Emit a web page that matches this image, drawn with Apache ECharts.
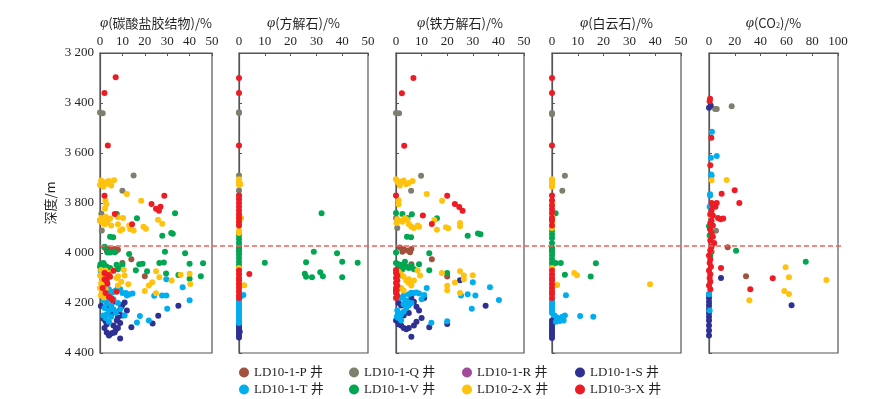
<!DOCTYPE html>
<html>
<head>
<meta charset="utf-8">
<script src="https://cdn.jsdelivr.net/npm/echarts@6/dist/echarts.min.js"></script>
<style>
  html, body { margin: 0; padding: 0; background: #fff; }
  #chart { width: 892px; height: 399px; }
</style>
</head>
<body>
<div id="chart"></div>
<script>
var chart = echarts.init(document.getElementById('chart'));

// wells and legend colours
var wells = ['LD10-1-P 井', 'LD10-1-Q 井', 'LD10-1-R 井', 'LD10-1-S 井', 'LD10-1-T 井', 'LD10-1-V 井', 'LD10-2-X 井', 'LD10-3-X 井'];
var wellColors = ['#a0523d', '#7f7f6f', '#a3499a', '#2e3192', '#00aeef', '#00a651', '#ffc20e', '#ed1c24'];

var depthTicks = [3200, 3400, 3600, 3800, 4000, 4200, 4400];
var boundaryDepth = 3970;

// panel 1: carbonate cement [value %, depth m]
var c1_P = [[2,3978],[3.5,3983],[5,3988],[6.5,3984],[8,3987],[4,3995],[7,3994],[3,3990],[14,4025],[20,4093],[10,4040],[8,4060]];
var c1_Q = [[0,3438],[1.2,3441],[15,3690],[10,3751],[0.6,3843],[0.8,3910],[0,3870]];
var c1_S = [[0.4,4212],[1.5,4262],[2.4,4272],[3,4285],[2,4300],[3,4318],[4.5,4325],[5.5,4320],[6.5,4318],[4,4330],[7,4308],[8,4300],[9,4280],[10,4250],[8.5,4232],[9.5,4215],[11,4198],[6,4195],[9,4342],[14,4297],[26,4251],[23.5,4282],[35,4211],[10,4208],[7.5,4270],[5,4245],[3.5,4222],[8,4258],[6,4290],[12,4230]];
var c1_T = [[0.3,4072],[1,4080],[0.5,4090],[1.5,4095],[3,4078],[2,4140],[3,4150],[4,4145],[5,4160],[6,4155],[7,4150],[8,4140],[9,4145],[10,4160],[11.5,4160],[13,4165],[14.5,4162],[2.5,4170],[4,4185],[3,4200],[5,4210],[2,4220],[4,4230],[6,4225],[3,4245],[5,4255],[2.5,4260],[7,4240],[8,4200],[6,4185],[1.5,4190],[9,4225],[11,4250],[17.8,4252],[16.5,4278],[21.8,4270],[24.2,4171],[27.7,4170],[29.6,4170],[29.6,4105],[30,4223],[36.9,4137],[40,4189],[12,4170],[1.5,4250],[4,4275]];
var c1_V = [[33.5,3841],[27.8,3931],[31.8,3920],[32.5,3923],[4.5,3935],[5.9,3937],[16.5,3861],[7.5,3844],[2,3975],[3.3,3998],[4.5,3998],[6.5,3997],[13,4004],[29,3995],[38,4001],[0.2,4045],[1,4050],[2,4048],[3,4055],[4.5,4060],[1.5,4040],[0,4055],[10,4047],[16,4069],[19,4043],[17.5,4045],[21,4073],[26.5,4040],[28.5,4038],[29.5,4082],[35,4088],[40,4043],[40,4103],[45,4093],[46,4041],[8,4065],[7.4,4047],[5.5,4070],[2.5,4065]];
var c1_2X = [[0.5,3710],[1,3720],[2,3725],[3,3715],[4,3712],[5,3730],[1.5,3735],[3.5,3722],[6.3,3709],[0,3728],[12,3764],[18.4,3791],[2.4,3790],[2.8,3805],[2.2,3822],[0.5,3860],[1.5,3865],[2.5,3855],[3.5,3870],[4.5,3862],[1,3878],[2,3885],[3,3880],[0,3870],[8,3857],[10.3,3860],[8,3885],[9,3910],[10,3905],[13,3890],[13.5,3905],[15,3910],[19.4,3895],[20.5,3903],[25.9,3867],[27.8,3883],[5,3890],
  [0.5,4068],[1.5,4075],[2.5,4070],[0,4090],[1,4100],[2,4110],[0.5,4120],[1.5,4130],[0,4140],[2.5,4145],[1,4155],[0.3,4170],[1.8,4178],[3,4120],[5.8,4071],[10.6,4067],[11,4090],[8,4093],[25,4073],[26.5,4097],[32,4110],[36,4087],[40,4083],[40.3,4124],[20,4152],[21.8,4130],[23.3,4117],[25,4161],[7.5,4100],[9.5,4115],[12.6,4125],[8,4130],[4,4080]];
var c1_3X = [[7,3297],[2,3360],[3.5,3570],[2,3771],[28.7,3771],[23,3804],[25,3823],[26.3,3831],[27,3815],[6.6,3844],[14.3,3885],[6,4071],[2,4105],[3,4110],[3.3,4123],[7.4,4155],[2.5,4160],[5,4181],[5.5,4188],[4,4175],[1.2,4140],[4.5,4095],[2,4080],[3.8,4088]];

// panel 2: calcite
var c2_P = [[0,3980],[0,3990]];
var c2_Q = [[0,3440],[0,3437],[0,3690],[0,3750],[0,3770]];
var c2_S = [[0,4290],[0,4300],[0,4310],[0,4320],[0,4330],[0,4338],[0.3,4315]];
var c2_T = [[0,4070],[0,4190],[0,4200],[0,4210],[0,4220],[0,4230],[0,4240],[0,4250],[0,4260],[0,4270],[0,4280],[1.7,4168],[0.5,4175]];
var c2_V = [[0,3930],[0,3945],[0,3960],[0,3975],[0,3990],[0,4005],[0,4020],[0,4035],[0,4050],[0,4060],[32,3841],[10,4039],[26,4037],[29,3995],[38,4001],[40,4035],[46,4039],[25.5,4083],[26,4095],[28.3,4097],[31.5,4077],[32.5,4093],[40,4097]];
var c2_2X = [[0,3705],[0,3712],[0,3720],[0,3728],[0.5,3725],[0,3780],[0,3850],[0,3860],[0,3870],[0,3880],[0,3910],[0,3920],[0,4060],[0,4080],[0,4100],[0,4115],[0,4130],[0,4150],[2,4129],[0.8,3860]];
var c2_3X = [[0,3300],[0,3360],[0,3570],[0,3770],[0,3785],[0,3800],[0,3815],[0,3830],[0,3845],[0,3860],[0,3875],[0,3890],[0,4070],[0,4085],[0,4100],[0,4110],[0,4125],[0,4140],[0,4155],[0,4170],[0,4180],[4,4084]];

// panel 3: ankerite
var c3_P = [[1.5,3978],[3,3985],[4.5,3990],[6,3984],[2.5,3995],[5.5,3997],[14,4025],[20,4094],[6,4045]];
var c3_Q = [[0,3440],[1.2,3441],[9.8,3691],[5.9,3751],[0,3860],[0.5,3900]];
var c3_S = [[0,4150],[1,4200],[2,4210],[3,4205],[4,4195],[6,4180],[7,4195],[8,4215],[9,4230],[5,4240],[3,4250],[1,4260],[0,4270],[1,4285],[2,4290],[3,4300],[4,4305],[5,4300],[7,4290],[8,4275],[6,4335],[25,4109],[35,4211],[13,4297],[20,4284],[10,4260],[11,4180],[6,4160]];
var c3_T = [[1,4080],[2,4090],[0.5,4230],[1,4240],[1.5,4250],[2,4245],[3,4235],[4,4220],[5,4210],[6,4200],[2,4180],[3,4170],[5,4165],[6,4160],[7,4160],[8,4158],[9,4162],[11,4168],[12,4140],[4,4190],[3,4205],[1,4260],[2,4270],[25.4,4170],[28,4165],[31,4170],[30,4117],[36.7,4137],[40.2,4188],[29.6,4223],[13.8,4279],[20,4273],[10,4185],[0.3,4255]];
var c3_V = [[0,3840],[2.5,3844],[4.5,3860],[6.2,3845],[16,3861],[28,3931],[32,3922],[33,3925],[4.3,3935],[5.9,3937],[0,3998],[13,4001],[0,4040],[1,4045],[2,4050],[3,4045],[4,4055],[5,4060],[6,4050],[7,4065],[1.5,4060],[2.5,4065],[9,4045],[13,4069],[20,4080],[3.5,4035]];
var c3_2X = [[0,3705],[0.5,3712],[1,3720],[2,3715],[3,3710],[4,3725],[5,3720],[6.5,3712],[1.5,3730],[12,3764],[18,3791],[1,3790],[1,3805],[0.5,3865],[1.5,3870],[2.5,3875],[3.5,3860],[4.5,3868],[0.2,3880],[5,3885],[6,3895],[7,3900],[8.5,3890],[9,3895],[15,3868],[20.4,3901],[19.5,3897],[25,3880],[25,3893],[16,3907],[8.4,4070],[9.4,4090],[17.9,4080],[20,4131],[20,4149],[23,4118],[25,4073],[26.5,4090],[26.5,4105],[25,4160],[30,4089],[1,4075],[2,4085],[3,4095],[4,4110],[5,4120],[6,4130],[2,4140],[3,4150],[5,4105],[7,4110]];
var c3_3X = [[6.8,3300],[2.3,3361],[3.2,3571],[0,3770],[20,3771],[23,3804],[24.7,3816],[26,3831],[10.5,3850],[14,3884],[0,4068],[0,4080],[0.5,4090],[0,4100],[0.5,4110],[0,4120],[0.5,4130],[0,4140],[0.3,4150],[0,4160],[0.5,4170],[0,4180]];

// panel 4: dolomite
var c4_P = [[0,3980],[0,3990]];
var c4_Q = [[0,3440],[0,3445],[5,3691],[4,3751]];
var c4_S = [[0,4270],[0,4280],[0,4290],[0,4300],[0,4310],[0,4320],[0,4330],[0,4340]];
var c4_T = [[0,4190],[0,4200],[0,4210],[0,4220],[0,4230],[0,4240],[5.4,4169],[1,4250],[2,4258],[3,4265],[4,4255],[5,4250],[1.5,4275],[3,4272],[4.5,4270],[10.9,4252],[16,4255]];
var c4_V = [[1.4,3841],[0,3910],[0,3925],[0,3940],[0,3960],[0,3980],[0,3995],[0,4010],[0,4025],[0,4040],[0,4055],[1.4,4040],[3.4,4040],[5,4087],[15,4094],[17,4041]];
var c4_2X = [[0,3705],[0,3712],[0,3720],[0,3728],[0,3735],[0,3800],[0,3850],[0,3880],[0,3900],[0,4060],[0,4090],[0,4125],[0,4150],[8.6,4080],[9.7,4089],[38,4125],[2,4128]];
var c4_3X = [[0,3300],[0,3360],[0,3570],[0,3770],[0,3790],[0,3810],[0,3825],[0,3840],[0,3860],[0,3870],[0,3890],[0,4070],[0,4085],[0,4100],[0,4110],[0,4125],[0,4140],[0,4155],[0,4165],[0,4180]];

// panel 5: CO2
var c5_P = [[14.5,3977],[28.7,4093],[2,3995]];
var c5_Q = [[4.7,3424],[6,3424],[17.6,3413],[5.4,3911]];
var c5_S = [[0,3419],[1.3,3410],[9.3,4100],[64,4209],[0,4165],[0,4180],[0,4195],[0,4210],[0,4225],[0,4240],[0,4255],[0,4270],[0,4290],[0,4310],[0,4330]];
var c5_T = [[2.3,3515],[6,3612],[1.5,3619],[1.6,3686],[2,3690],[0.8,3765],[0.8,3770],[0.5,3815],[0,4165],[0.5,4230]];
var c5_V = [[0,3893],[21,3991],[75,4035],[0.5,3930],[1,4010]];
var c5_2X = [[2,3709],[13.7,3708],[1,3850],[59.4,4057],[62,4097],[58.4,4152],[62,4164],[91,4108],[31.3,4189],[1,3990]];
var c5_3X = [[0.8,3383],[0.5,3393],[1.8,3539],[1,3649],[9.8,3763],[19.9,3749],[23.5,3800],[2,3800],[3,3810],[4,3805],[5,3815],[6,3800],[2,3830],[1,3845],[3,3850],[7,3860],[9,3865],[11,3862],[2,3870],[1,3880],[3,3890],[0.8,3905],[2,3920],[3,3935],[1,3950],[4,3960],[2,3975],[1,3990],[0,4010],[1,4025],[0.5,4040],[1.5,4055],[0,4070],[1,4085],[0.5,4100],[1,4115],[0,4130],[1,4145],[9.3,4060],[49.4,4101],[32,4145]];

var panelData = [
    [c1_P, c1_Q, [], c1_S, c1_T, c1_V, c1_2X, c1_3X],
    [c2_P, c2_Q, [], c2_S, c2_T, c2_V, c2_2X, c2_3X],
    [c3_P, c3_Q, [], c3_S, c3_T, c3_V, c3_2X, c3_3X],
    [c4_P, c4_Q, [], c4_S, c4_T, c4_V, c4_2X, c4_3X],
    [c5_P, c5_Q, [], c5_S, c5_T, c5_V, c5_2X, c5_3X]
];
var panelTitles = ['{i|φ}(碳酸盐胶结物)/%', '{i|φ}(方解石)/%', '{i|φ}(铁方解石)/%', '{i|φ}(白云石)/%', '{i|φ}(CO{sub|2})/%'];
var xMax = [50, 50, 50, 50, 100];
var xStep = [10, 10, 10, 10, 20];

// layout
var panelLeft = [100, 239, 396, 552, 709];
var panelWidth = [112, 129, 128, 129, 129];
var gridTop = 53, gridHeight = 300;
var axisColor = '#555';
var textColor = '#231f20';
var serif = '"Liberation Serif", "Noto Sans CJK SC", serif';

function depthLabel(v) {
    return Math.floor(v / 1000) + ' ' + String(v % 1000).padStart(3, '0');
}

var grid = [], xAxis = [], yAxis = [], series = [];

panelLeft.forEach(function (left, p) {
    grid.push({
        left: left, top: gridTop, width: panelWidth[p], height: gridHeight,
        show: true, borderColor: axisColor, borderWidth: 1.2
    });
    xAxis.push({
        gridIndex: p, type: 'value', position: 'top',
        min: 0, max: xMax[p], interval: xStep[p],
        name: panelTitles[p], nameLocation: 'middle', nameGap: 22,
        nameTextStyle: {
            color: textColor, fontSize: 13, fontFamily: '"Noto Sans CJK SC", sans-serif',
            rich: {
                i: { fontStyle: 'italic', fontFamily: serif, fontSize: 15, color: textColor },
                sub: { fontSize: 8, padding: [6, 0, 0, 0], color: textColor, fontFamily: serif }
            }
        },
        axisLine: { lineStyle: { color: axisColor, width: 1.2 } },
        axisTick: { inside: true, length: 3, lineStyle: { color: axisColor } },
        axisLabel: { color: textColor, fontSize: 13, fontFamily: serif, margin: 5 },
        splitLine: { show: false }
    });
    yAxis.push({
        gridIndex: p, type: 'value', inverse: true,
        min: depthTicks[0], max: depthTicks[depthTicks.length - 1], interval: 200,
        name: p === 0 ? '深度/m' : '', nameLocation: 'middle', nameRotate: 90, nameGap: 43,
        nameTextStyle: { color: textColor, fontSize: 13, fontFamily: '"Noto Sans CJK SC", sans-serif' },
        axisLine: { show: true, lineStyle: { color: axisColor, width: 1.2 } },
        axisTick: { show: true, inside: true, length: 3, lineStyle: { color: axisColor } },
        axisLabel: { show: p === 0, color: textColor, fontSize: 13, fontFamily: serif, margin: 6, formatter: depthLabel },
        splitLine: { show: false }
    });
    panelData[p].forEach(function (pts, w) {
        series.push({
            name: wells[w], type: 'scatter',
            xAxisIndex: p, yAxisIndex: p,
            symbolSize: 6, data: pts,
            itemStyle: { color: wellColors[w], opacity: 1 }
        });
    });
});

// overlay grid for the boundary line across all panels
grid.push({ left: 100, top: gridTop, width: 743, height: gridHeight });
xAxis.push({ gridIndex: 5, type: 'value', min: 0, max: 1, show: false });
yAxis.push({ gridIndex: 5, type: 'value', inverse: true, min: 3200, max: 4400, show: false });
series.push({
    type: 'scatter', xAxisIndex: 5, yAxisIndex: 5, data: [], silent: true,
    markLine: {
        symbol: 'none', silent: true, animation: false,
        label: { show: false },
        lineStyle: { color: '#f0605a', type: [5, 3], width: 1.5 },
        data: [{ yAxis: boundaryDepth }]
    }
});

// legend: 4 columns x 2 rows
var legendX = [239, 349, 462, 575];
var legendY = [366, 383];
var legend = wells.map(function (w, i) {
    return {
        data: [w], left: legendX[i % 4], top: legendY[Math.floor(i / 4)],
        padding: 0, itemWidth: 10, itemHeight: 10, icon: 'circle',
        selectedMode: false,
        textStyle: { color: textColor, fontSize: 13, fontFamily: serif }
    };
});

var option = {
    animation: false,
    backgroundColor: '#fff',
    legend: legend,
    grid: grid,
    xAxis: xAxis,
    yAxis: yAxis,
    series: series
};

chart.setOption(option);
</script>
</body>
</html>
